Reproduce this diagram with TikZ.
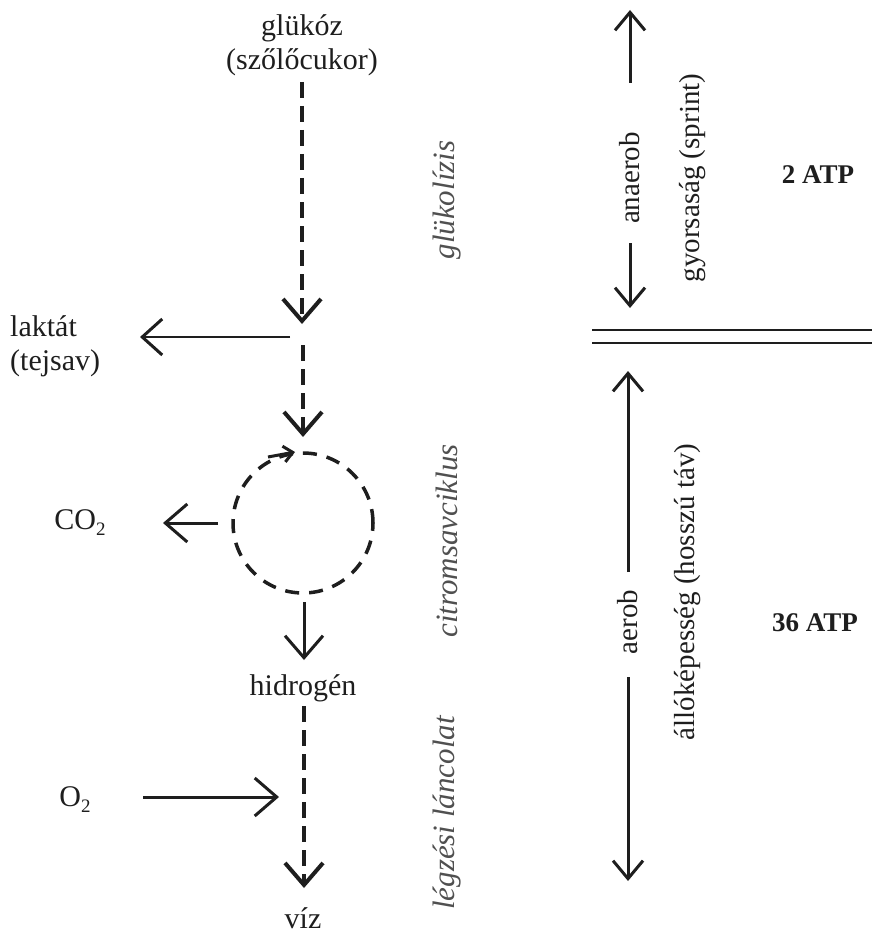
\documentclass[tikz,border=0pt]{standalone}
\usepackage{fontspec}
\setmainfont{Liberation Serif}
\usetikzlibrary{arrows.meta}
\definecolor{ink}{HTML}{1E1E1E}
\definecolor{greyink}{HTML}{505050}
\begin{document}
\begin{tikzpicture}[x=1pt,y=-1pt,
  txt/.style={font=\fontsize{30}{34}\selectfont, text=ink, inner sep=0pt},
  lab/.style={font=\fontsize{31}{34}\selectfont\itshape, text=greyink, rotate=90, inner sep=0pt},
  side/.style={font=\fontsize{29}{34}\selectfont, text=ink, rotate=90, inner sep=0pt},
  atp/.style={font=\fontsize{27}{32}\selectfont\bfseries, text=ink, inner sep=0pt},
  vtip/.tip={Straight Barb[length=22pt,width=38pt]},
  flow/.style={draw=ink, line width=4pt, dash pattern=on 16pt off 8pt, -{vtip}},
  solidarr/.style={draw=ink, line width=3pt, -{vtip}},
  thinarr/.style={draw=ink, line width=2pt, -{Straight Barb[length=20pt,width=36pt,line width=3pt]}},
  sidearr/.style={draw=ink, line width=3pt, -{Straight Barb[length=18pt,width=30pt]}},
]
\useasboundingbox (0,0) rectangle (872,936);

% left column texts
\node[txt, align=center] (gluc) at (302,45) {glükóz\\(szőlőcukor)};
\node[txt, align=left, anchor=west] (lakt) at (10,346) {laktát\\(tejsav)};
\node[txt] (co2) at (80,523) {CO\raisebox{-6pt}{\fontsize{19}{19}\selectfont 2}};
\node[txt] (hid) at (303,688) {hidrogén};
\node[txt] (o2) at (75,800) {O\raisebox{-6pt}{\fontsize{19}{19}\selectfont 2}};
\node[txt] (viz) at (303,918) {víz};

% citric acid cycle
\node[circle, draw=ink, line width=3.5pt, dash pattern=on 14pt off 10pt,
      minimum size=140pt, inner sep=0pt] (cyc) at (303,523) {};

% flow coordinates
\coordinate (f1s) at (302,82);
\coordinate (f1e) at (302,324);
\coordinate (brs) at (290,337);
\coordinate (brl) at (140,337);
\coordinate (f2s) at (303,345);
\coordinate (f2e) at (303,437);
\coordinate (cyco) at (218,523);
\coordinate (co2t) at (163,523);
\coordinate (f3s) at (304,602);
\coordinate (f3e) at (304,660);
\coordinate (f4s) at (304,706);
\coordinate (f4e) at (304,888);
\coordinate (o2s) at (143,797);
\coordinate (o2e) at (279,797);
\coordinate (cya) at (268,457);
\coordinate (cyb) at (295,452);

\draw[flow] (f1s) -- (f1e);
\draw[thinarr] (brs) -- (brl);
\draw[flow] (f2s) -- (f2e);
\draw[draw=ink, line width=3pt, -{Straight Barb[length=9pt,width=16pt]}] (cya) -- (cyb);
\draw[solidarr] (cyco) -- (co2t);
\draw[solidarr] (f3s) -- (f3e);
\draw[flow] (f4s) -- (f4e);
\draw[solidarr] (o2s) -- (o2e);

% italic process labels
\node[lab] (glik) at (447,200) {glükolízis};
\node[lab] (citr) at (447,541) {citromsavciklus};
\node[lab] (legz) at (447,813) {légzési láncolat};

% right side
\coordinate (ua) at (630,10);
\coordinate (ub) at (630,83);
\coordinate (uc) at (630,243);
\coordinate (ud) at (630,308);
\node[side] (anae) at (630,178) {anaerob};
\draw[sidearr] (ub) -- (ua);
\draw[sidearr] (uc) -- (ud);
\node[side] (gyors) at (693,178) {gyorsaság (sprint)};
\node[atp] (atp2) at (818,175) {2 ATP};

\coordinate (dl1) at (592,330);
\coordinate (dr1) at (872,330);
\coordinate (dl2) at (592,343);
\coordinate (dr2) at (872,343);
\draw[ink, line width=2.4pt] (dl1) -- (dr1);
\draw[ink, line width=2.4pt] (dl2) -- (dr2);

\coordinate (la) at (628,371);
\coordinate (lb) at (628,572);
\coordinate (lc) at (628,677);
\coordinate (ld) at (628,881);
\node[side] (aer) at (628,622) {aerob};
\draw[sidearr] (lb) -- (la);
\draw[sidearr] (lc) -- (ld);
\node[side] (allo) at (688,592) {állóképesség (hosszú táv)};
\node[atp] (atp36) at (815,623) {36 ATP};
\end{tikzpicture}
\end{document}
